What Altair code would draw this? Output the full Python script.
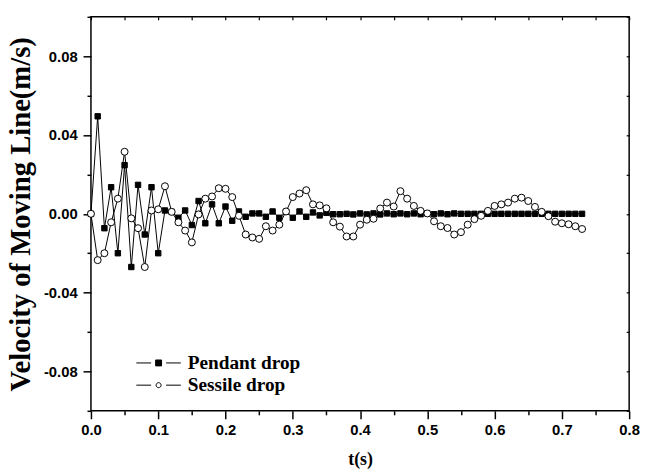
import altair as alt
import pandas as pd

# ---------------- data ----------------
time_s = [0.00, 0.01, 0.02, 0.03, 0.04, 0.05, 0.06, 0.07, 0.08, 0.09,
          0.10, 0.11, 0.12, 0.13, 0.14, 0.15, 0.16, 0.17, 0.18, 0.19,
          0.20, 0.21, 0.22, 0.23, 0.24, 0.25, 0.26, 0.27, 0.28, 0.29,
          0.30, 0.31, 0.32, 0.33, 0.34, 0.35, 0.36, 0.37, 0.38, 0.39,
          0.40, 0.41, 0.42, 0.43, 0.44, 0.45, 0.46, 0.47, 0.48, 0.49,
          0.50, 0.51, 0.52, 0.53, 0.54, 0.55, 0.56, 0.57, 0.58, 0.59,
          0.60, 0.61, 0.62, 0.63, 0.64, 0.65, 0.66, 0.67, 0.68, 0.69,
          0.70, 0.71, 0.72, 0.73]

pendant = [0.0, 0.0495, -0.0073, 0.0135, -0.0200, 0.0247, -0.0270, 0.0147, -0.0105, 0.0135,
           -0.0200, 0.0017, 0.0010, -0.0020, 0.0017, -0.0057, 0.0065, -0.0048, 0.0048, -0.0048,
           0.0037, -0.0035, 0.0012, -0.0015, 0.0002, 0.0002, -0.0015, 0.0012, -0.0020, 0.0010,
           -0.0020, 0.0012, -0.0015, 0.0007, -0.0008, 0.0005, -0.0002, -0.0002, 0.0000, -0.0003,
           0.0002, -0.0003, 0.0002, -0.0003, 0.0002, -0.0002, 0.0002, -0.0002, 0.0002, -0.0002,
           0.0002, -0.0002, 0.0002, -0.0002, 0.0002, 0.0000, 0.0000, 0.0000, 0.0000, 0.0000,
           0.0000, 0.0000, 0.0000, 0.0000, 0.0000, 0.0000, 0.0000, 0.0000, 0.0000, 0.0000,
           0.0000, 0.0000, 0.0000, 0.0000]

sessile = [0.0, -0.0235, -0.0200, -0.0043, 0.0077, 0.0315, -0.0023, -0.0073, -0.0270, 0.0017,
           0.0023, 0.0140, 0.0010, -0.0043, -0.0085, -0.0145, -0.0003, 0.0077, 0.0088, 0.0130,
           0.0127, 0.0085, -0.0010, -0.0105, -0.0120, -0.0127, -0.0063, -0.0085, -0.0055, 0.0012,
           0.0085, 0.0103, 0.0120, 0.0048, 0.0043, 0.0028, -0.0043, -0.0065, -0.0115, -0.0115,
           -0.0055, -0.0030, -0.0025, 0.0027, 0.0057, 0.0037, 0.0115, 0.0077, 0.0040, 0.0015,
           0.0002, -0.0038, -0.0063, -0.0072, -0.0105, -0.0093, -0.0055, -0.0027, -0.0010, 0.0015,
           0.0040, 0.0048, 0.0057, 0.0077, 0.0082, 0.0065, 0.0035, 0.0010, -0.0012, -0.0040,
           -0.0048, -0.0053, -0.0063, -0.0077]

series_names = ["Pendant drop", "Sessile drop"]

x_tick_values = [0.0, 0.05, 0.1, 0.15, 0.2, 0.25, 0.3, 0.35, 0.4, 0.45,
                 0.5, 0.55, 0.6, 0.65, 0.7, 0.75, 0.8]
y_tick_values = [-0.1, -0.08, -0.06, -0.04, -0.02, 0.0, 0.02, 0.04, 0.06, 0.08, 0.1]

df = pd.DataFrame({
    "t": time_s + time_s,
    "v": pendant + sessile,
    "series": [series_names[0]] * len(pendant) + [series_names[1]] * len(sessile),
})

# ---------------- layout / style ----------------
W, H = 545, 399
x_scale = alt.Scale(domain=[0, 0.8], nice=False, zero=False)
y_scale = alt.Scale(domain=[-0.1, 0.1], nice=False, zero=False)

major_x = "abs(datum.value*10 - round(datum.value*10)) < 0.001"
major_y = "abs(datum.value*25 - round(datum.value*25)) < 0.001"

SANS = "Liberation Sans"
SERIF = "Liberation Serif"

x_axis = alt.Axis(
    values=x_tick_values,
    labelExpr=f"({major_x}) ? format(datum.value, '.1f') : ''",
    tickSize={"condition": {"test": major_x, "value": 8}, "value": 4},
    tickColor="black", tickWidth=1.5, domain=False, grid=False,
    labelFont=SANS, labelFontWeight="bold", labelFontSize=15, labelColor="black",
    labelPadding=4, labelFlush=False, labelOverlap=False,
    title="t(s)", titleFont=SERIF, titleFontSize=18, titleFontWeight="bold",
    titleColor="black", titleY=49, titleBaseline="middle",
)
y_axis = alt.Axis(
    values=y_tick_values,
    labelExpr=(f"({major_y}) ? (datum.value < -0.0001 ? '-' + format(-datum.value, '.2f') "
               f": format(abs(datum.value), '.2f')) : ''"),
    tickSize={"condition": {"test": major_y, "value": 8}, "value": 4},
    tickColor="black", tickWidth=1.5, domain=False, grid=False,
    labelFont=SANS, labelFontWeight="bold", labelFontSize=15, labelColor="black",
    labelPadding=6, labelFlush=False, labelOverlap=False,
    title="Velocity of Moving Line(m/s)", titleFont=SERIF, titleFontSize=29,
    titleFontWeight="bold", titleColor="black", titleX=-71, titleBaseline="middle",
)
# inward ticks on the top and right frame
x_axis_top = alt.Axis(values=x_tick_values, orient="bottom", offset=-H, tickSize=3,
                      tickColor="black", tickWidth=1.2, labels=False, domain=False,
                      grid=False, title=None)
y_axis_right = alt.Axis(values=y_tick_values, orient="left", offset=-W, tickSize=3,
                        tickColor="black", tickWidth=1.2, labels=False, domain=False,
                        grid=False, title=None)

PATH_PENDANT = ("M-0.98,0L-0.33,0M0.33,0L0.98,0"
                "M-0.13,-0.13L0.13,-0.13L0.13,0.13L-0.13,0.13Z")
PATH_SESSILE = ("M-0.98,0L-0.33,0M0.33,0L0.98,0"
                "M0.11,0A0.11,0.11 0 1,1 -0.11,0A0.11,0.11 0 1,1 0.11,0Z")


def legend(path, ly):
    return alt.Legend(orient="none", legendX=45, legendY=ly, symbolType=path,
                      symbolSize=2116, symbolStrokeWidth=1, title=None, padding=0,
                      labelFont=SERIF, labelFontWeight="bold", labelFontSize=19.5,
                      labelColor="black", labelOffset=6)


base = alt.Chart(df)

line_p = base.transform_filter(alt.datum.series == series_names[0]).mark_line(
    color="black", strokeWidth=1).encode(
    x=alt.X("t:Q", scale=x_scale, axis=x_axis),
    y=alt.Y("v:Q", scale=y_scale, axis=y_axis),
)
line_s = base.transform_filter(alt.datum.series == series_names[1]).mark_line(
    color="black", strokeWidth=1).encode(
    x=alt.X("t:Q", scale=x_scale, axis=x_axis_top),
    y=alt.Y("v:Q", scale=y_scale, axis=y_axis_right),
)
pts_p = base.transform_filter(alt.datum.series == series_names[0]).mark_point(
    shape="square", filled=True, fill="black", size=30, strokeWidth=1, opacity=1).encode(
    x=alt.X("t:Q", scale=x_scale, axis=None),
    y=alt.Y("v:Q", scale=y_scale, axis=None),
    stroke=alt.Stroke("series:N", scale=alt.Scale(domain=[series_names[0]], range=["black"]),
                      legend=legend(PATH_PENDANT, 327)),
)
pts_s = base.transform_filter(alt.datum.series == series_names[1]).mark_point(
    shape="circle", filled=True, fill="white", size=50, strokeWidth=1, opacity=1).encode(
    x=alt.X("t:Q", scale=x_scale, axis=None),
    y=alt.Y("v:Q", scale=y_scale, axis=None),
    stroke=alt.Stroke("series:N", scale=alt.Scale(domain=[series_names[1]], range=["black"]),
                      legend=legend(PATH_SESSILE, 349.5)),
)

chart = alt.layer(line_p, line_s, pts_p, pts_s).resolve_scale(
    stroke="independent"
).resolve_axis(x="independent", y="independent").properties(
    width=W, height=H, autosize="none",
    padding={"left": 84, "top": 6, "right": 12, "bottom": 58},
    background="white",
).configure_view(stroke="black", strokeWidth=1.5)

chart.save("out.html", embed_options={"renderer": "svg", "actions": False})
